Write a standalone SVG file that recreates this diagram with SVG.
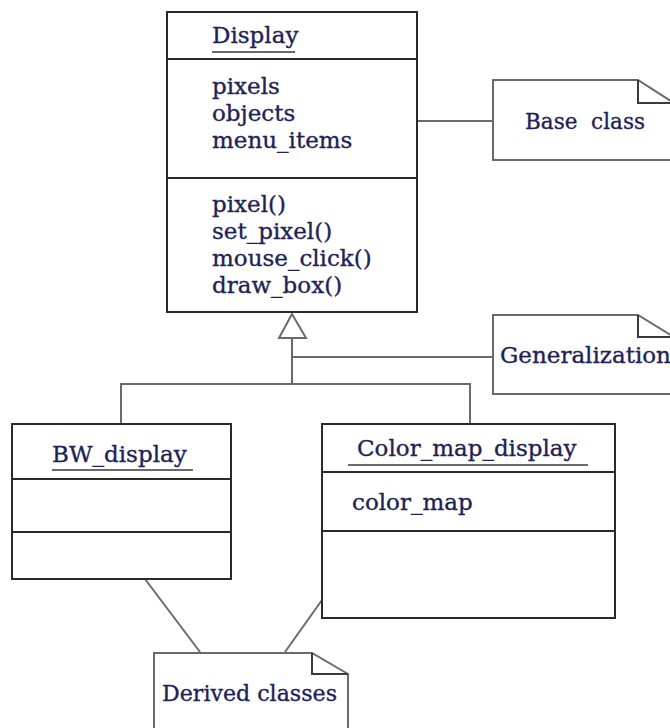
<svg xmlns="http://www.w3.org/2000/svg" width="670" height="728" viewBox="0 0 670 728">
  <style>
    .box { fill: #ffffff; stroke: #2a2a2a; stroke-width: 2; }
    .div { stroke: #2a2a2a; stroke-width: 2; fill: none; }
    .note { fill: #ffffff; stroke: #6a6a6a; stroke-width: 2; }
    .fold { fill: none; stroke: #3a3a3a; stroke-width: 2; }
    .wire { fill: none; stroke: #6a6a6a; stroke-width: 2; }
    .uline { stroke: #6a6a6a; stroke-width: 2; }
    text { font-family: "DejaVu Serif", "Liberation Serif", serif; font-size: 23px; fill: #1e2257; stroke: #1e2257; stroke-width: 0.35; white-space: pre; }
  </style>

  <!-- connectors -->
  <g id="connectors">
    <line class="wire" x1="417" y1="121" x2="493" y2="121"/>
    <polygon class="wire" fill="#ffffff" points="292,314 279,338 306,338"/>
    <polyline class="wire" points="292,338 292,384"/>
    <line class="wire" x1="292" y1="357" x2="493" y2="357"/>
    <polyline class="wire" points="121,424 121,384 470,384 470,424"/>
    <line class="wire" stroke="#3a3a3a" x1="145" y1="579" x2="200" y2="652"/>
    <line class="wire" stroke="#3a3a3a" x1="322" y1="600" x2="285" y2="652"/>
  </g>

  <!-- base class -->
  <g id="display">
    <rect class="box" x="167" y="12" width="250" height="300"/>
    <line class="div" x1="167" y1="59" x2="417" y2="59"/>
    <line class="div" x1="167" y1="178" x2="417" y2="178"/>
    <text x="212" y="43">Display</text>
    <line class="uline" x1="212" y1="52" x2="295" y2="52"/>
    <text x="212" y="94">pixels</text>
    <text x="212" y="121">objects</text>
    <text x="212" y="148">menu_items</text>
    <text x="212" y="212">pixel()</text>
    <text x="212" y="239">set_pixel()</text>
    <text x="212" y="266">mouse_click()</text>
    <text x="212" y="293">draw_box()</text>
  </g>

  <!-- derived classes -->
  <g id="bw_display">
    <rect class="box" x="12" y="424" width="219" height="155"/>
    <line class="div" x1="12" y1="479" x2="231" y2="479"/>
    <line class="div" x1="12" y1="532" x2="231" y2="532"/>
    <text x="52" y="462">BW_display</text>
    <line class="uline" x1="52" y1="470" x2="193" y2="470"/>
  </g>

  <g id="color_map_display">
    <rect class="box" x="322" y="424" width="293" height="194"/>
    <line class="div" x1="322" y1="472" x2="615" y2="472"/>
    <line class="div" x1="322" y1="531" x2="615" y2="531"/>
    <text x="357" y="456">Color_map_display</text>
    <line class="uline" x1="348" y1="465" x2="588" y2="465"/>
    <text x="352" y="510">color_map</text>
  </g>

  <!-- notes -->
  <g id="note_base">
    <path class="note" d="M493,80 H638 L674,103 V160 H493 Z"/>
    <path class="fold" d="M638,80 V103 H674"/>
    <text x="525" y="129" textLength="120" lengthAdjust="spacingAndGlyphs">Base  class</text>
  </g>

  <g id="note_generalization">
    <path class="note" d="M493,315 H638 L674,337 V394 H493 Z"/>
    <path class="fold" d="M638,315 V337 H674"/>
    <text x="500" y="363">Generalization</text>
  </g>

  <g id="note_derived">
    <path class="note" d="M154,653 H312 L348,674 V740 H154 Z"/>
    <path class="fold" d="M312,653 V674 H348"/>
    <text x="162" y="701" textLength="175" lengthAdjust="spacingAndGlyphs">Derived classes</text>
  </g>
</svg>
